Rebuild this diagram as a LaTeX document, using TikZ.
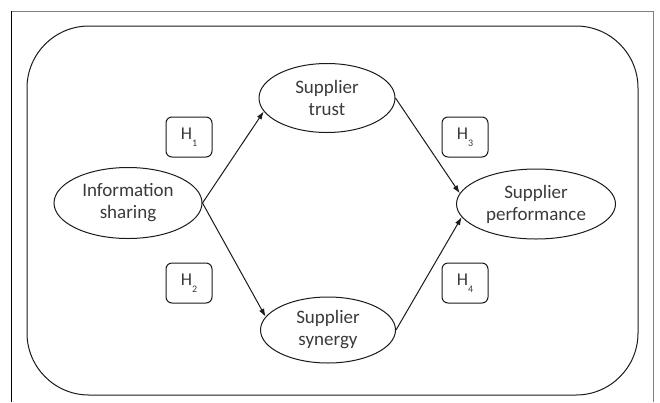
\documentclass[tikz,border=0pt]{standalone}
\usepackage{fontspec}
\setmainfont{Carlito}
\usetikzlibrary{shapes.geometric,arrows.meta}
\definecolor{txt}{HTML}{3A3A3A}
\definecolor{ln}{HTML}{1A1A1A}
\tikzset{
  construct/.style={ellipse,draw=ln,line width=1pt,inner sep=0pt,align=center,text=txt,
    font=\fontsize{19}{22}\selectfont},
  hyp/.style={draw=ln,line width=1pt,rounded corners=6pt,minimum width=46pt,minimum height=40pt,
    inner sep=0pt,text=txt,font=\fontsize{18}{20}\selectfont},
  link/.style={draw=ln,line width=1pt,-{Latex[length=8pt,width=5.5pt]}}
}
\newcommand{\hsub}[1]{H\raisebox{-7pt}{\fontsize{10}{10}\selectfont #1}}
\begin{document}
\begin{tikzpicture}[x=1pt,y=-1pt]
\useasboundingbox (0,0) rectangle (660,402);
\draw[gray,line width=1pt] (11,402) coordinate (bl) -- (11,11) coordinate (tl) -- (653,11) coordinate (tr) -- (653,402) coordinate (br);
\draw[black,line width=0.9pt] (11,11) -- (11,402);
\draw[ln,line width=1pt,rounded corners=62pt] (27,26) rectangle (638,395);
\node[construct,minimum width=148pt,minimum height=71pt] (info) at (128,203) {Information\\sharing};
\node[construct,minimum width=136pt,minimum height=69pt] (trust) at (327,98) {Supplier\\trust};
\node[construct,minimum width=135pt,minimum height=66pt] (syn) at (328,330) {Supplier\\synergy};
\node[construct,minimum width=159pt,minimum height=70pt] (perf) at (536,204) {Supplier\\performance};
\node[hyp] (h1) at (189,137) {\hsub{1}};
\node[hyp] (h2) at (189,283) {\hsub{2}};
\node[hyp] (h3) at (465,137) {\hsub{3}};
\node[hyp] (h4) at (465,283) {\hsub{4}};
\draw[link] (info.east) -- (trust.192);
\draw[link] (info.east) -- (syn.168);
\draw[link] (trust.east) -- (perf.172);
\draw[link] (syn.east) -- (perf.190);
\end{tikzpicture}
\end{document}
